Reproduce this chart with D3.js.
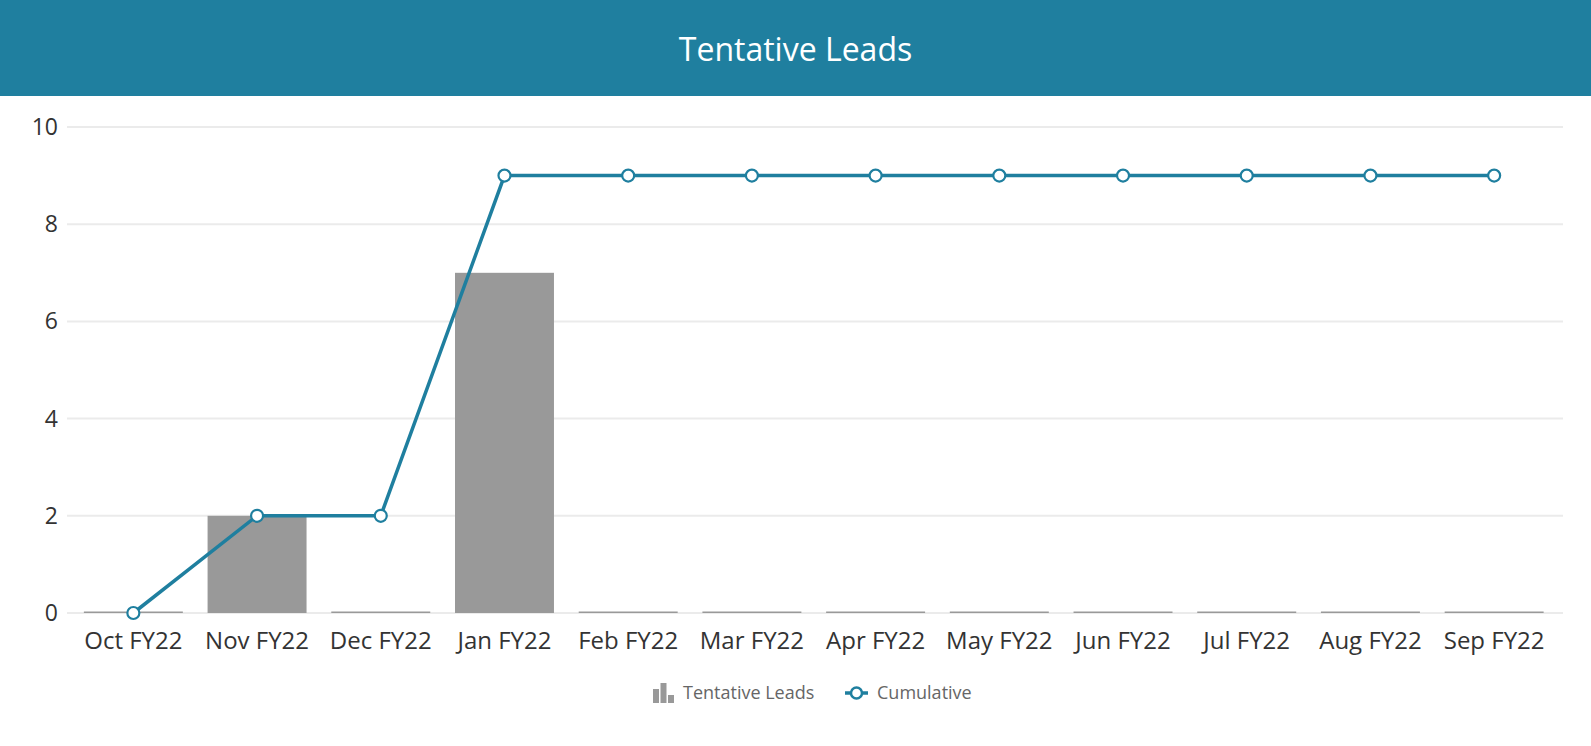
<!DOCTYPE html>
<html>
<head>
<meta charset="utf-8">
<script src="https://cdn.jsdelivr.net/npm/d3@7"></script>
<style>
  body { margin: 0; background: #fff; font-family: "Open Sans", sans-serif; }
  .header { height: 96px; background: #1f7f9f; color: #fff; font-size: 32px;
    display: flex; align-items: center; justify-content: center; }
</style>
</head>
<body>
<div class="header">Tentative Leads</div>
<svg id="chart"></svg>
<script>
const months = ['Oct FY22', 'Nov FY22', 'Dec FY22', 'Jan FY22', 'Feb FY22', 'Mar FY22',
  'Apr FY22', 'May FY22', 'Jun FY22', 'Jul FY22', 'Aug FY22', 'Sep FY22'];
const leads = [0, 2, 0, 7, 0, 0, 0, 0, 0, 0, 0, 0];
const cumulative = [0, 2, 2, 9, 9, 9, 9, 9, 9, 9, 9, 9];
const yTicks = [0, 2, 4, 6, 8, 10];

const width = 1591, height = 650;
const offY = 96; // header height
const blue = '#1f7f9f', grey = '#999999';

const svg = d3.select('#chart')
  .attr('width', width)
  .attr('height', height)
  .style('display', 'block');

const x = d3.scaleBand()
  .domain(months)
  .range([71.5, 1556])
  .paddingInner(0.2)
  .paddingOuter(0.1);

const y = d3.scaleLinear()
  .domain([0, 10])
  .range([613 - offY, 127 - offY]);

// gridlines
svg.append('g')
  .selectAll('line')
  .data(yTicks)
  .join('line')
  .attr('x1', 67).attr('x2', 1563)
  .attr('y1', d => y(d)).attr('y2', d => y(d))
  .attr('stroke', '#ebebeb')
  .attr('stroke-width', 2);

// y labels
svg.append('g')
  .selectAll('text')
  .data(yTicks)
  .join('text')
  .attr('x', 58)
  .attr('y', d => y(d))
  .attr('dy', '0.35em')
  .attr('text-anchor', 'end')
  .attr('fill', '#333')
  .style('font-size', '23px')
  .text(d => d);

// x labels
svg.append('g')
  .selectAll('text')
  .data(months)
  .join('text')
  .attr('x', d => x(d) + x.bandwidth() / 2)
  .attr('y', 641 - offY)
  .attr('dy', '0.35em')
  .attr('text-anchor', 'middle')
  .attr('fill', '#333')
  .style('font-size', '24px')
  .text(d => d);

// bars (zero values still show a hairline)
svg.append('g')
  .selectAll('rect')
  .data(leads)
  .join('rect')
  .attr('x', (d, i) => x(months[i]))
  .attr('width', x.bandwidth())
  .attr('y', d => d > 0 ? y(d) : y(0) - 1.5)
  .attr('height', d => d > 0 ? y(0) - y(d) : 1.5)
  .attr('fill', grey);

// cumulative line
const line = d3.line()
  .x((d, i) => x(months[i]) + x.bandwidth() / 2)
  .y(d => y(d));

svg.append('path')
  .datum(cumulative)
  .attr('d', line)
  .attr('fill', 'none')
  .attr('stroke', blue)
  .attr('stroke-width', 3.5);

svg.append('g')
  .selectAll('circle')
  .data(cumulative)
  .join('circle')
  .attr('cx', (d, i) => x(months[i]) + x.bandwidth() / 2)
  .attr('cy', d => y(d))
  .attr('r', 6)
  .attr('fill', '#fff')
  .attr('stroke', blue)
  .attr('stroke-width', 2.2);

// legend
const lg = svg.append('g').attr('transform', `translate(0, ${693 - offY})`);
const barIcon = [[0, 14], [7.5, 20], [15, 8]];
lg.selectAll('rect')
  .data(barIcon)
  .join('rect')
  .attr('x', d => 653 + d[0])
  .attr('y', d => 10 - d[1])
  .attr('width', 6)
  .attr('height', d => d[1])
  .attr('fill', '#999');
lg.append('text')
  .attr('x', 683).attr('y', 0).attr('dy', '0.35em')
  .attr('fill', '#666').style('font-size', '18px')
  .text('Tentative Leads');
lg.append('line')
  .attr('x1', 845).attr('x2', 868)
  .attr('stroke', blue).attr('stroke-width', 3.5);
lg.append('circle')
  .attr('cx', 856.5).attr('r', 5.5)
  .attr('fill', '#fff').attr('stroke', blue).attr('stroke-width', 2.5);
lg.append('text')
  .attr('x', 877).attr('y', 0).attr('dy', '0.35em')
  .attr('fill', '#666').style('font-size', '18px')
  .text('Cumulative');
</script>
</body>
</html>
